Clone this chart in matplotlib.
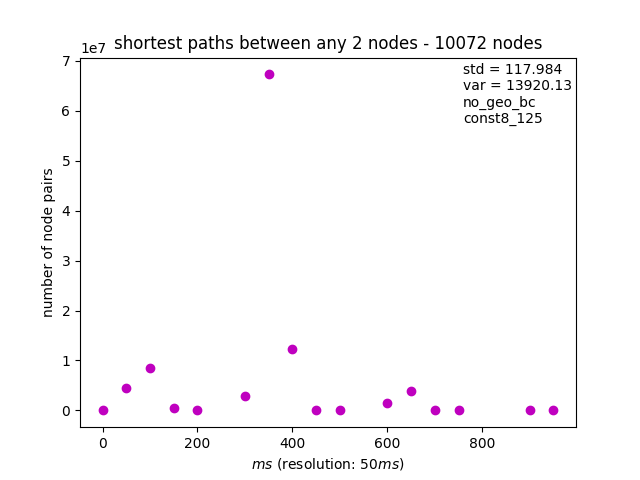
import matplotlib
matplotlib.use("Agg")
import matplotlib.pyplot as plt

ms = [0, 50, 100, 150, 200, 300, 350, 400, 450, 500, 600, 650, 700, 750, 900, 950]
pairs = [0.0, 0.45e7, 0.85e7, 0.05e7, 0.0, 0.28e7, 6.73e7, 1.23e7,
         0.0, 0.0, 0.15e7, 0.39e7, 0.0, 0.0, 0.0, 0.0]

fig, ax = plt.subplots(figsize=(6.4, 4.8), dpi=100)
ax.plot(ms, pairs, "mo")
ax.set_title("shortest paths between any 2 nodes - 10072 nodes")
ax.set_xlabel("$ms$ (resolution: 50$ms$)")
ax.set_ylabel("number of node pairs")
ax.text(0.772, 0.985, "std = 117.984\nvar = 13920.13\nno_geo_bc\nconst8_125",
        transform=ax.transAxes, va="top", ha="left")
fig.savefig("out.png")
